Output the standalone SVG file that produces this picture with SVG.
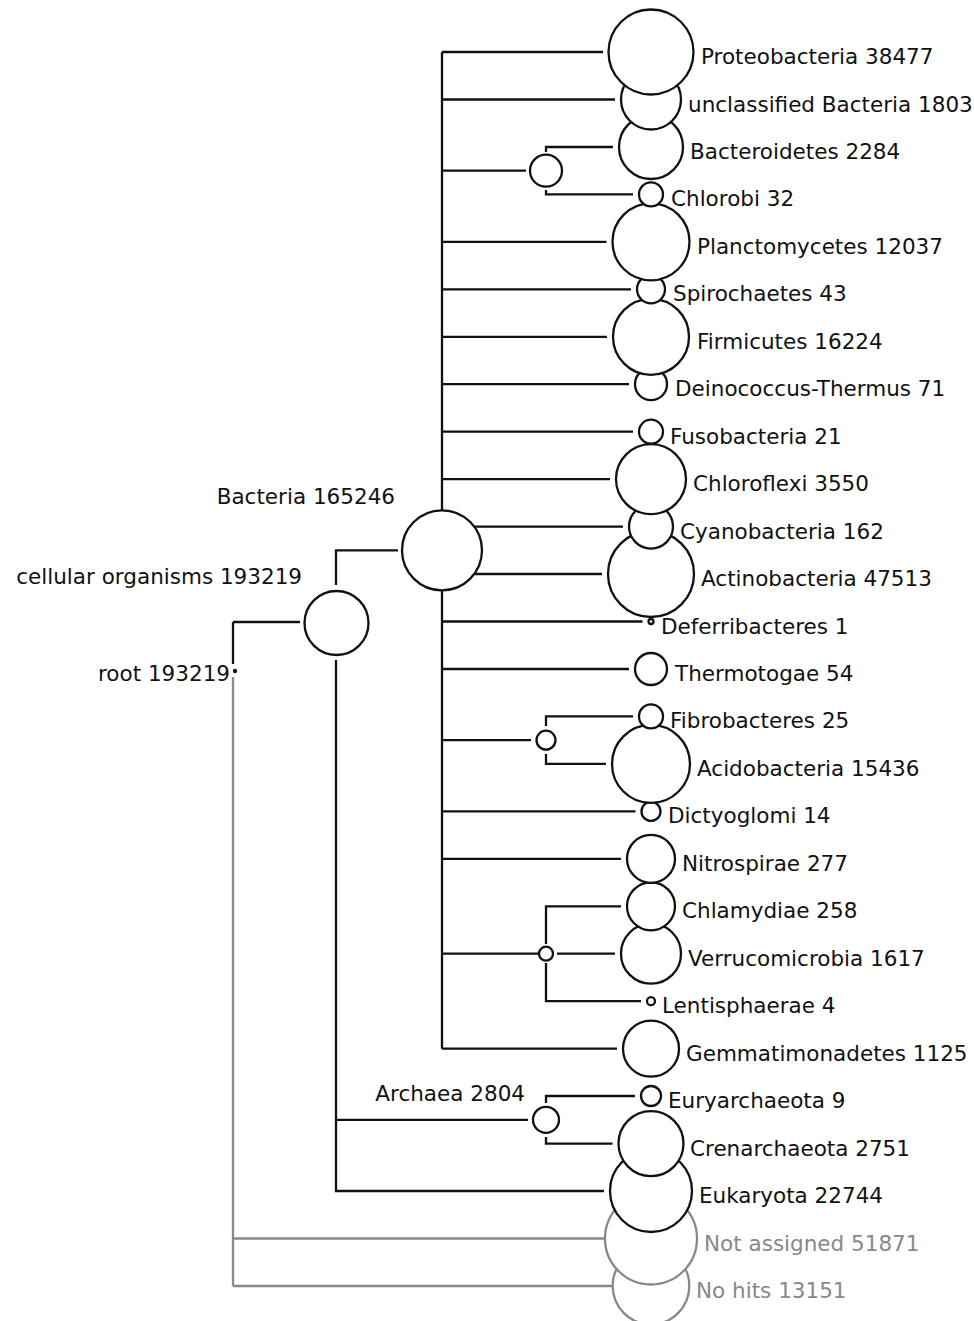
<svg xmlns="http://www.w3.org/2000/svg" width="974" height="1321" viewBox="0 0 974 1321">
<style>
.ln{stroke:#111;stroke-width:2.3;fill:none}
.gl{stroke:#888;stroke-width:2.3;fill:none}
.nd{fill:#fff;stroke:#111;stroke-width:2.3}
.gn{fill:#fff;stroke:#888;stroke-width:2.3}
text{font-family:"DejaVu Sans","Liberation Sans",sans-serif;font-size:21.5px;fill:#111}
.gt{fill:#888}
.r{text-anchor:end}
</style>
<rect width="974" height="1321" fill="#fff"/>
<g id="connectors">
<path class="ln" d="M233,622V664M233,622H300"/>
<path class="gl" d="M233,677V1286M233,1238.5H604M233,1286H612"/>
<path class="ln" d="M336,585V550.3H398M336,660V1191H604M336,1119.8H528"/>
<path class="ln" d="M442,52V1048.7M442,52H603M442,99.5H615M442,170.7H526M442,241.8H606.5M442,289.3H631M442,336.8H607M442,384.2H629M442,431.7H633M442,479.1H610M442,526.6H623M442,574H602M442,621.5H642.5M442,669H629M442,740.2H531M442,811.4H635.5M442,858.8H621M442,953.7H539M442,1048.7H617"/>
<path class="ln" d="M546,152V147H613M546,190V194.4H633"/>
<path class="ln" d="M546,726V716.4H633M546,754V763.9H606"/>
<path class="ln" d="M546,944V906.3H621M557,953.7H615M546,963V1001.2H641"/>
<path class="ln" d="M546,1103V1096H635M546,1137V1143.6H612.5"/>
</g>
<g id="n-nohits"><circle class="gn" cx="651" cy="1286" r="38.3"/><text class="gt" x="696" y="1298">No hits 13151</text></g>
<g id="n-notassigned"><circle class="gn" cx="651" cy="1238.5" r="46"/><text class="gt" x="704" y="1250.5">Not assigned 51871</text></g>
<g id="n-eukaryota"><circle class="nd" cx="651" cy="1191" r="41"/><text x="699" y="1203">Eukaryota 22744</text></g>
<g id="n-crenarchaeota"><circle class="nd" cx="651" cy="1143.6" r="32.5"/><text x="690" y="1155.6">Crenarchaeota 2751</text></g>
<g id="n-euryarchaeota"><circle class="nd" cx="651" cy="1096" r="10"/><text x="668" y="1108">Euryarchaeota 9</text></g>
<g id="n-gemmatimonadetes"><circle class="nd" cx="651" cy="1048.7" r="28"/><text x="686" y="1060.7">Gemmatimonadetes 1125</text></g>
<g id="n-lentisphaerae"><circle class="nd" cx="651" cy="1001.2" r="4"/><text x="662" y="1013.2">Lentisphaerae 4</text></g>
<g id="n-verrucomicrobia"><circle class="nd" cx="651" cy="953.7" r="30"/><text x="688" y="965.7">Verrucomicrobia 1617</text></g>
<g id="n-chlamydiae"><circle class="nd" cx="651" cy="906.3" r="24"/><text x="682" y="918.3">Chlamydiae 258</text></g>
<g id="n-nitrospirae"><circle class="nd" cx="651" cy="858.8" r="24"/><text x="682" y="870.8">Nitrospirae 277</text></g>
<g id="n-dictyoglomi"><circle class="nd" cx="651" cy="811.4" r="9.5"/><text x="668" y="823.4">Dictyoglomi 14</text></g>
<g id="n-acidobacteria"><circle class="nd" cx="651" cy="763.9" r="39"/><text x="697" y="775.9">Acidobacteria 15436</text></g>
<g id="n-fibrobacteres"><circle class="nd" cx="651" cy="716.4" r="12"/><text x="670" y="728.4">Fibrobacteres 25</text></g>
<g id="n-thermotogae"><circle class="nd" cx="651" cy="669" r="16"/><text x="675" y="681">Thermotogae 54</text></g>
<g id="n-deferribacteres"><circle class="nd" cx="651" cy="621.5" r="2.5"/><text x="661" y="633.5">Deferribacteres 1</text></g>
<g id="n-actinobacteria"><circle class="nd" cx="651" cy="574" r="43"/><text x="701" y="586">Actinobacteria 47513</text></g>
<g id="n-cyanobacteria"><circle class="nd" cx="651" cy="526.6" r="22"/><text x="680" y="538.6">Cyanobacteria 162</text></g>
<g id="n-chloroflexi"><circle class="nd" cx="651" cy="479.1" r="35"/><text x="693" y="491.1">Chloroflexi 3550</text></g>
<g id="n-fusobacteria"><circle class="nd" cx="651" cy="431.7" r="12"/><text x="670" y="443.7">Fusobacteria 21</text></g>
<g id="n-deinococcus"><circle class="nd" cx="651" cy="384.2" r="16"/><text x="675" y="396.2">Deinococcus-Thermus 71</text></g>
<g id="n-firmicutes"><circle class="nd" cx="651" cy="336.8" r="38"/><text x="697" y="348.8">Firmicutes 16224</text></g>
<g id="n-spirochaetes"><circle class="nd" cx="651" cy="289.3" r="14"/><text x="673" y="301.3">Spirochaetes 43</text></g>
<g id="n-planctomycetes"><circle class="nd" cx="651" cy="241.8" r="38.5"/><text x="697" y="253.8">Planctomycetes 12037</text></g>
<g id="n-chlorobi"><circle class="nd" cx="651" cy="194.4" r="12"/><text x="671" y="206.4">Chlorobi 32</text></g>
<g id="n-bacteroidetes"><circle class="nd" cx="651" cy="147" r="32"/><text x="690" y="159">Bacteroidetes 2284</text></g>
<g id="n-unclassified"><circle class="nd" cx="651" cy="99.5" r="30"/><text x="688" y="111.5">unclassified Bacteria 1803</text></g>
<g id="n-proteobacteria"><circle class="nd" cx="651" cy="52" r="42.5"/><text x="701" y="64">Proteobacteria 38477</text></g>
<g id="n-bact-chlorobi"><circle class="nd" cx="546" cy="170.7" r="16"/></g>
<g id="n-fibro-acido"><circle class="nd" cx="546" cy="740.2" r="9.5"/></g>
<g id="n-chlam-verruco"><circle class="nd" cx="546" cy="953.7" r="7"/></g>
<g id="n-archaea"><circle class="nd" cx="546" cy="1119.8" r="13"/><text class="r" x="525" y="1101">Archaea 2804</text></g>
<g id="n-bacteria"><circle class="nd" cx="442" cy="550.3" r="40"/><text class="r" x="395" y="504">Bacteria 165246</text></g>
<g id="n-cellular"><circle class="nd" cx="336.5" cy="623" r="32"/><text class="r" x="302" y="584">cellular organisms 193219</text></g>
<g id="n-root"><circle cx="235" cy="671" r="2.2" fill="#111"/><text class="r" x="230" y="681">root 193219</text></g>
</svg>
